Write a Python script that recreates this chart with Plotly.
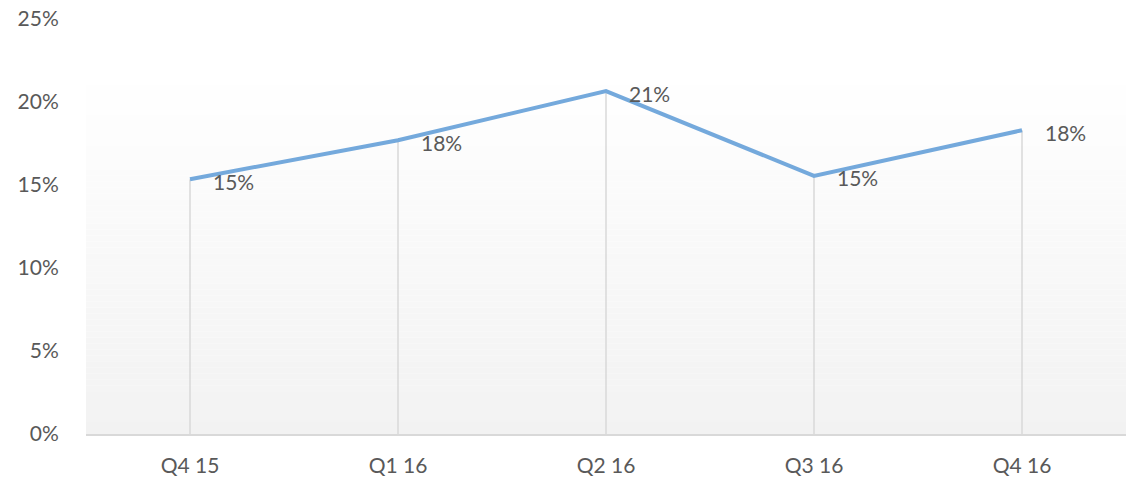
import plotly.graph_objects as go

quarters = ["Q4 15", "Q1 16", "Q2 16", "Q3 16", "Q4 16"]
values = [0.1535, 0.177, 0.2066, 0.1555, 0.183]
labels = ["15%", "18%", "21%", "15%", "18%"]
y_ticks = [0, 0.05, 0.10, 0.15, 0.20, 0.25]
y_tick_text = ["0%", "5%", "10%", "15%", "20%", "25%"]

FONT = "Lato"
GRAY = "#595959"
FS = 21

fig = go.Figure()
fig.add_trace(go.Scatter(
    x=quarters, y=values, mode="lines",
    line=dict(color="#74a9dc", width=4),
    error_y=dict(type="data", symmetric=False, array=[0] * len(values),
                 arrayminus=values, color="#d9d9d9", thickness=1.5, width=0),
    cliponaxis=False, hoverinfo="skip", showlegend=False,
))

annotations = [
    dict(x=q, y=v, xref="x", yref="y", text=t, showarrow=False,
         xanchor="left", yanchor="middle", xshift=21, yshift=-2,
         font=dict(family=FONT, size=FS, color=GRAY))
    for q, v, t in zip(quarters, values, labels)
]

# background gradient (white at top to light gray at bottom)
shapes = []
top_frac = 1 - (73 - 19) / (434 - 19)
n = 60
for i in range(n):
    y0 = top_frac * i / n
    y1 = top_frac * (i + 1) / n
    t = (i + 0.5) / n  # 0 at bottom, 1 at top
    c = round(242 + (255 - 242) * t)
    shapes.append(dict(type="rect", xref="paper", yref="paper", x0=0, x1=1,
                       y0=y0, y1=y1, fillcolor=f"rgb({c},{c},{c})",
                       line=dict(width=0), layer="below"))

fig.update_layout(
    width=1137, height=478,
    margin=dict(l=86, r=11, t=19, b=44, autoexpand=False),
    paper_bgcolor="white", plot_bgcolor="white",
    shapes=shapes, annotations=annotations,
    xaxis=dict(type="category", range=[-0.5, 4.5], showgrid=False,
               showline=True, linecolor="#d9d9d9", linewidth=1.5,
               ticks="outside", ticklen=12, tickcolor="rgba(0,0,0,0)",
               tickfont=dict(family=FONT, size=FS, color=GRAY), zeroline=False,
               automargin=False),
    yaxis=dict(range=[0, 0.25], tickvals=y_ticks, ticktext=y_tick_text,
               showgrid=False, zeroline=False, showline=False,
               ticks="outside", ticklen=22, tickcolor="rgba(0,0,0,0)",
               tickfont=dict(family=FONT, size=FS, color=GRAY),
               automargin=False),
)

fig.write_html("out.html", config={"displayModeBar": False},
               post_script="document.body.style.margin='0';document.body.style.overflow='hidden';")
